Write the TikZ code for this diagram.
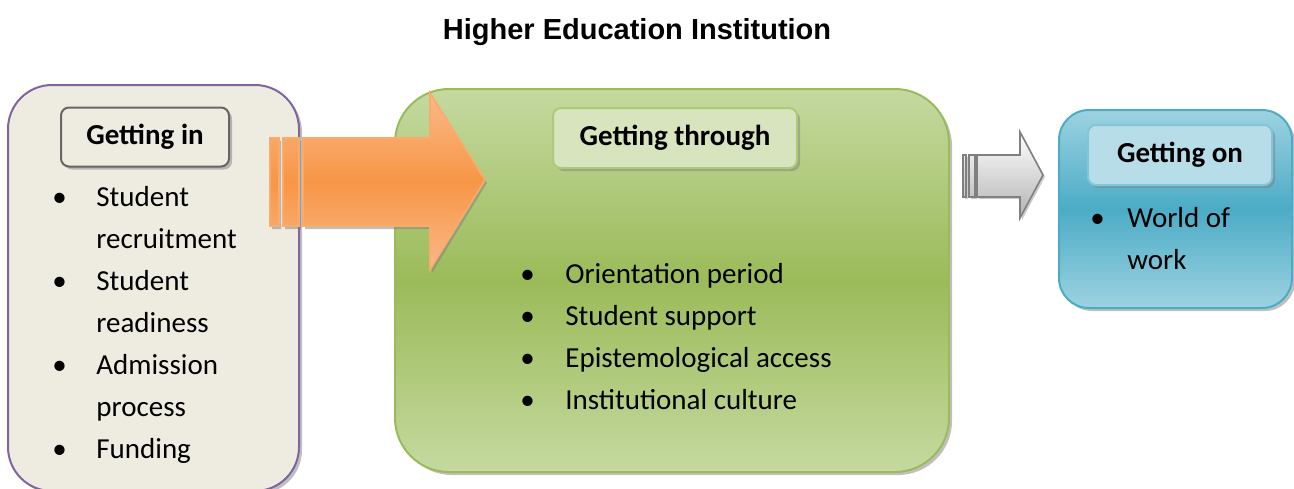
\documentclass[tikz,border=0pt]{standalone}
\usepackage{fontspec}
\setmainfont{Carlito}
\newfontfamily\titlefont{Liberation Sans}
\usetikzlibrary{shadows}

\definecolor{beigefill}{HTML}{EEECE1}
\definecolor{purpleline}{HTML}{8064A2}
\definecolor{headline}{HTML}{666666}
\definecolor{orangemid}{HTML}{F79646}
\definecolor{orangelight}{HTML}{FAB98A}
\definecolor{greenmid}{HTML}{9BBB59}
\definecolor{greenlight}{HTML}{C5D9A0}
\definecolor{greenhead}{HTML}{D7E4BD}
\definecolor{bluemid}{HTML}{4BACC6}
\definecolor{bluelight}{HTML}{9DD2E1}
\definecolor{bluehead}{HTML}{B7DEE8}

\tikzset{
  head/.style={rounded corners=4pt, inner sep=0pt, line width=1pt,
    font=\bfseries\fontsize{14.5}{17}\selectfont,
    drop shadow={shadow xshift=1.5pt, shadow yshift=-1.5pt, opacity=0.5}},
  itemlist/.style={anchor=base west, inner sep=0pt,
    font=\fontsize{14.5}{21}\selectfont},
  bigbox/.style={line width=1pt,
    drop shadow={shadow xshift=1.5pt, shadow yshift=-1.5pt, opacity=0.5}}
}

\begin{document}
\begin{tikzpicture}[x=0.5pt,y=-0.5pt]
  \useasboundingbox (0,0) rectangle (1294,488);
  \clip (0,0) rectangle (1294,488);

  % title
  \node[font=\titlefont\bfseries\fontsize{14.5}{17}\selectfont] (title) at (637,32) {Higher Education Institution};

  % three stages
  \draw [bigbox, fill=beigefill, draw=purpleline, rounded corners=22pt] (8,85) rectangle (299,491);
  \draw [bigbox, draw=greenmid, top color=greenlight, bottom color=greenlight, middle color=greenmid,
         rounded corners=27pt] (395,89) rectangle (949,472);
  \draw [bigbox, draw=bluemid, top color=bluelight, bottom color=bluelight, middle color=bluemid,
         rounded corners=15pt] (1059,110) rectangle (1292,308);

  % striped arrows
  \draw [orangemid!80!white, line width=0.8pt, top color=orangelight, bottom color=orangelight, middle color=orangemid,
         drop shadow={shadow xshift=1pt, shadow yshift=-1.5pt, opacity=0.5}]
        (270,138) rectangle (279,226)
        (283,138) rectangle (299,226)
        (303,138) -- (430,138) -- (430,93) -- (485,180) -- (430,270) -- (430,226) -- (303,226) -- cycle;
  \draw [black!50, line width=0.8pt, top color=white, bottom color=black!30,
         drop shadow={shadow xshift=1pt, shadow yshift=-1pt, opacity=0.4}]
        (963,155) rectangle (966,197)
        (969,155) rectangle (975,197)
        (977,155) -- (1020,155) -- (1020,132) -- (1043,175) -- (1020,218) -- (1020,197) -- (977,197) -- cycle;

  % headings
  \node [head, fill=beigefill, draw=headline, minimum width=84pt, minimum height=29.5pt] (inhead) at (145,137) {Getting in};
  \node [head, fill=greenhead, draw=greenmid!80!white, minimum width=122pt, minimum height=30pt] (throughhead) at (675,138) {Getting through};
  \node [head, fill=bluehead, draw=bluemid!70!white, minimum width=92pt, minimum height=30pt] (onhead) at (1180,155) {Getting on};

  % lists
  \node [itemlist] (inlist) at (52,206) {\begin{tabular}[t]{@{}p{22pt}@{}l@{}}
      \textbullet & Student\\ & recruitment\\
      \textbullet & Student\\ & readiness\\
      \textbullet & Admission\\ & process\\
      \textbullet & Funding
    \end{tabular}};
  \node [itemlist] (throughlist) at (520,283) {\begin{tabular}[t]{@{}p{22.5pt}@{}l@{}}
      \textbullet & Orientation period\\
      \textbullet & Student support\\
      \textbullet & Epistemological access\\
      \textbullet & Institutional culture
    \end{tabular}};
  \node [itemlist] (onlist) at (1090,227) {\begin{tabular}[t]{@{}p{18.5pt}@{}l@{}}
      \textbullet & World of\\ & work
    \end{tabular}};
\end{tikzpicture}
\end{document}
